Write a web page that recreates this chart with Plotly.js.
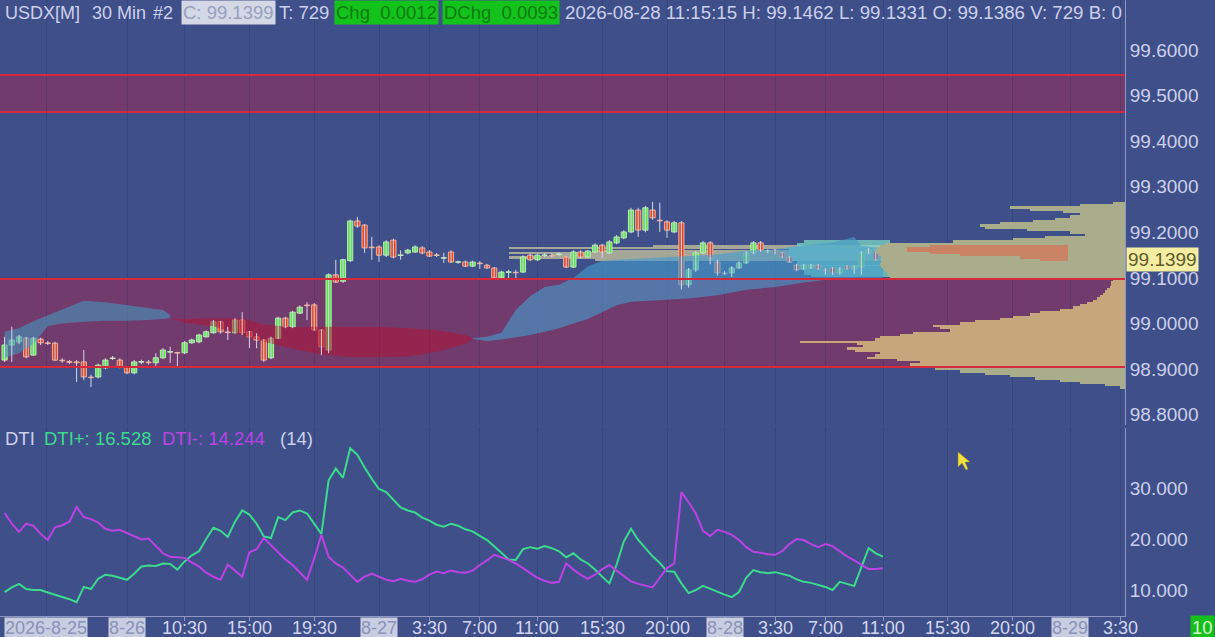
<!DOCTYPE html>
<html>
<head>
<meta charset="utf-8">
<script src="https://cdn.plot.ly/plotly-3.0.1.min.js"></script>
<style>
  html, body { margin: 0; padding: 0; background: #3f4f8a; }
  #chart { width: 1215px; height: 637px; }
</style>
</head>
<body>
<div id="chart"></div>
<script>
// 30 min bars, index 0 = 8-27 00:00
const barStart = -52;
const opens  = [98.920,98.953,98.960,98.968,98.931,98.966,98.958,98.957,98.920,98.917,98.916,98.916,98.883,98.883,98.903,98.924,98.920,98.905,98.892,98.916,98.916,98.914,98.925,98.938,98.936,98.936,98.958,98.960,98.971,98.980,99.004,98.982,98.980,99.008,98.982,98.971,98.964,98.925,98.968,99.012,98.993,99.023,99.041,99.041,98.986,98.942,
  99.107,99.093,99.138,99.225,99.216,99.168,99.168,99.150,99.183,99.150,99.155,99.157,99.166,99.157,99.150,99.144,99.157,99.135,99.135,99.126,99.133,99.128,99.122,99.100,99.113,99.113,99.113,99.150,99.140,99.150,99.150,99.152,99.146,99.124,99.157,99.146,99.157,
  99.172,99.155,99.177,99.188,99.201,99.249,99.205,99.249,99.227,99.223,99.201,99.221,99.085,99.118,99.155,99.177,99.135,99.111,99.111,99.122,99.133,99.155,99.177,99.159,99.161,99.155,99.146,99.128,99.120,99.122,99.128,99.118,99.122,99.111,99.126,99.120,99.124,99.155,99.157,99.1386];
const highs  = [98.971,98.993,98.975,98.971,98.971,98.969,98.962,98.960,98.924,98.920,98.920,98.942,98.888,98.912,98.924,98.929,98.924,98.907,98.920,98.921,98.920,98.935,98.946,98.949,98.938,98.962,98.967,98.978,98.985,99.008,99.006,98.993,99.012,99.025,98.984,98.979,98.966,98.971,99.015,99.015,99.028,99.040,99.047,99.045,98.988,99.110,
  99.140,99.142,99.228,99.234,99.218,99.190,99.172,99.183,99.186,99.161,99.164,99.172,99.170,99.161,99.155,99.155,99.161,99.138,99.138,99.138,99.137,99.131,99.124,99.116,99.118,99.118,99.150,99.153,99.153,99.155,99.155,99.156,99.148,99.161,99.161,99.161,99.176,
  99.175,99.183,99.194,99.205,99.254,99.254,99.258,99.267,99.265,99.227,99.225,99.225,99.122,99.159,99.181,99.181,99.140,99.115,99.126,99.137,99.159,99.181,99.181,99.163,99.164,99.157,99.148,99.131,99.131,99.131,99.131,99.122,99.124,99.124,99.128,99.128,99.159,99.166,99.161,99.1462];
const lows   = [98.916,98.916,98.955,98.924,98.929,98.953,98.953,98.918,98.914,98.911,98.872,98.876,98.861,98.880,98.900,98.920,98.902,98.889,98.889,98.911,98.910,98.903,98.922,98.914,98.903,98.933,98.955,98.957,98.969,98.978,98.978,98.964,98.978,98.975,98.946,98.946,98.916,98.922,98.966,98.990,98.990,99.021,99.008,98.984,98.931,98.935,
  99.089,99.089,99.135,99.210,99.155,99.140,99.135,99.146,99.143,99.140,99.152,99.155,99.152,99.146,99.146,99.133,99.133,99.131,99.124,99.124,99.120,99.120,99.098,99.098,99.096,99.096,99.111,99.137,99.137,99.146,99.146,99.148,99.122,99.122,99.144,99.144,99.155,
  99.144,99.152,99.174,99.185,99.198,99.190,99.200,99.228,99.201,99.188,99.198,99.075,99.079,99.113,99.152,99.130,99.105,99.107,99.102,99.120,99.131,99.152,99.157,99.155,99.152,99.144,99.133,99.115,99.118,99.120,99.118,99.107,99.107,99.107,99.118,99.109,99.107,99.152,99.138,99.1331];
const closes = [98.953,98.964,98.971,98.927,98.968,98.958,98.957,98.920,98.919,98.915,98.914,98.883,98.882,98.909,98.920,98.925,98.905,98.892,98.916,98.917,98.915,98.925,98.942,98.939,98.936,98.958,98.964,98.975,98.982,99.004,98.982,98.981,99.008,98.980,98.971,98.964,98.920,98.968,99.012,98.993,99.025,99.036,99.040,98.986,98.949,99.107,
  99.091,99.140,99.225,99.214,99.166,99.167,99.150,99.179,99.146,99.151,99.161,99.168,99.155,99.148,99.150,99.145,99.135,99.136,99.126,99.135,99.132,99.122,99.100,99.113,99.114,99.112,99.146,99.140,99.150,99.151,99.149,99.153,99.124,99.157,99.146,99.159,99.172,
  99.157,99.179,99.190,99.201,99.249,99.205,99.254,99.232,99.226,99.205,99.221,99.085,99.118,99.155,99.177,99.144,99.111,99.110,99.122,99.133,99.155,99.177,99.161,99.160,99.155,99.146,99.135,99.118,99.128,99.128,99.120,99.117,99.111,99.120,99.120,99.126,99.155,99.161,99.140,99.1399];

const dtiPlus  = [9.6,10.5,11.2,10.2,10.0,10.0,9.5,9.1,8.7,8.2,7.6,10.6,10.2,12.2,13.0,12.8,12.4,12.0,13.2,14.6,14.8,14.7,15.2,15.1,14.0,15.6,16.8,17.6,20.0,22.2,21.6,20.4,23.4,25.6,24.8,23.0,20.5,20.2,24.3,23.7,25.2,25.6,25.0,23.0,21.0,31.5,
  33.8,32.0,37.8,36.5,34.0,31.8,29.8,29.2,27.8,26.2,25.6,25.2,24.2,23.6,22.8,22.4,23.0,22.6,21.9,21.5,20.6,19.8,18.6,17.2,16.0,15.9,18.0,18.4,18.1,18.6,18.2,17.6,16.4,17.2,16.0,15.2,14.0,
  12.6,11.3,15.0,19.5,22.0,19.8,18.2,16.6,15.3,13.7,13.6,11.3,9.4,10.0,10.8,10.2,9.6,9.1,8.6,9.6,12.4,13.9,13.5,13.3,13.5,13.2,12.8,12.1,11.6,11.4,11.0,10.6,10.0,11.6,11.2,10.8,14.5,18.2,17.2,16.528];
const dtiMinus = [25.1,23.0,21.4,23.0,22.6,21.0,19.8,22.3,22.7,23.4,26.3,24.3,23.9,23.2,22.0,21.6,21.8,21.2,20.6,19.9,20.1,18.6,17.2,16.5,16.4,16.3,15.4,14.6,13.4,12.6,12.0,15.0,13.8,12.6,17.4,18.0,20.2,18.8,17.5,16.0,14.9,13.4,12.0,16.2,20.8,16.5,
  15.2,14.4,13.0,11.6,12.6,13.2,12.6,12.0,11.7,12.2,11.8,11.6,12.1,13.0,13.6,13.3,13.8,13.5,13.4,13.8,14.9,15.8,16.9,16.4,15.9,15.2,14.3,13.4,12.4,11.8,11.4,11.6,15.2,14.0,13.0,12.2,13.0,
  14.1,14.9,13.8,12.8,11.7,11.2,10.8,10.5,12.4,14.3,15.2,29.2,27.2,25.0,21.6,20.6,21.8,21.4,20.8,19.8,18.4,17.5,17.3,17.0,16.9,17.6,19.0,20.0,19.8,19.0,18.4,19.0,18.6,17.6,16.6,15.8,14.9,14.1,14.1,14.244];

// ichimoku cloud segments (bar index, upper, lower)
const cloudBlue1Idx = [-52,-50,-48,-46,-44,-41,-38,-35,-32,-30,-29];
const cloudBlue1Up  = [98.982,98.990,99.005,99.018,99.032,99.050,99.047,99.040,99.034,99.030,99.019];
const cloudBlue1Lo  = [98.925,98.935,98.955,98.995,99.000,99.004,99.006,99.006,99.008,99.010,99.012];
const cloudRedIdx = [-29,-27,-23,-19,-16,-12,-8,-4,0,4,8,12,13];
const cloudRedUp  = [99.012,99.010,99.012,99.012,98.998,98.992,98.993,98.993,98.993,98.990,98.986,98.975,98.968];
const cloudRedLo  = [99.012,99.002,98.994,98.975,98.960,98.945,98.932,98.926,98.926,98.928,98.938,98.955,98.966];
const cloudBlue2Idx = [13,15,17,19,21,23,25,27,29,31,33,35,39,43,47,51,55,59,63,66,67,70];
const cloudBlue2Up  = [98.968,98.971,98.980,99.030,99.060,99.080,99.085,99.100,99.125,99.138,99.140,99.142,99.145,99.148,99.152,99.160,99.163,99.172,99.178,99.190,99.170,99.165];
const cloudBlue2Lo  = [98.966,98.962,98.965,98.970,98.975,98.982,98.990,99.000,99.010,99.025,99.040,99.048,99.052,99.055,99.062,99.074,99.080,99.090,99.098,99.100,99.100,99.100];

// supply / demand zones
const zoneLow  = [98.905, 99.464];
const zoneHigh = [99.098, 99.545];

// volume profile (right side)
const vpLevels = [98.860,98.865,98.870,98.875,98.880,98.885,98.890,98.895,98.900,98.905,98.910,98.915,98.920,98.925,98.930,98.935,98.940,98.945,98.950,98.955,98.960,98.965,98.970,98.975,98.980,98.985,98.990,98.995,
  99.000,99.005,99.010,99.015,99.020,99.025,99.030,99.035,99.040,99.045,99.050,99.055,99.060,99.065,99.070,99.075,99.080,99.085,99.090,99.095,99.100,99.105,99.110,99.115,99.120,99.125,99.130,99.135,
  99.140,99.145,99.150,99.155,99.160,99.165,99.170,99.175,99.180,99.185,99.190,99.195,99.200,99.205,99.210,99.215,99.220,99.225,99.230,99.235,99.240,99.245,99.250,99.255,99.260,99.265];
const vpVolume = [5,20,45,65,90,115,140,165,190,228,215,205,228,258,250,245,270,278,262,268,325,250,245,225,212,175,185,192,
  165,150,125,112,95,85,65,52,45,38,32,28,25,22,20,18,15,14,14,12,235,236,238,240,242,244,245,244,
  243,244,246,248,250,248,245,240,172,112,80,40,55,98,140,145,125,92,70,55,45,62,95,115,45,12];
const hotLevels = [99.140,99.145,99.150,99.155,99.160,99.165,99.170];
const hotStart  = [57,57,57,57,57,57,57];
const hotVolume = [28,48,108,138,161,161,138];

// session profile / value area in the chart
const sessLevels = [99.140,99.145,99.150,99.155,99.160,99.165,99.170];
const sessStart  = [30,18,24,18,30,18,38];
const sessLen    = [43,55,49,55,43,55,35];
const vaLevels = [99.105,99.110,99.115,99.120,99.125,99.130,99.135,99.140,99.145,99.150,99.155,99.160,99.165,99.170,99.175,99.180];
const vaStart  = [60,59,59,58,58,58,58,57,57,57,57,57,57,58,58,59];
const vaLen    = [11,12,12,13,13,13,13,14,14,14,14,14,14,13,13,12];

const tickIdx  = [-46.2,-35,-27,-18,-9,0,7,14,22,31,40,48,55,62,70,79,88,96,103];
const tickText = ['2026-8-25','8-26','10:30','15:00','19:30','8-27','3:30','7:00','11:00','15:30','20:00','8-28','3:30','7:00','11:00','15:30','20:00','8-29','3:30'];
const dateTicks = ['2026-8-25','8-26','8-27','8-28','8-29'];
const priceTicks = [98.8,98.9,99.0,99.1,99.2,99.3,99.4,99.5,99.6];
const dtiTicks = [10,20,30];

const lastPrice = 99.1399;

const barIdx = opens.map((_, i) => barStart + i);

const BG = '#3f4f8a';
const TXT = '#ccd0ea';
const FONT = 'Liberation Sans, Arial, sans-serif';
const plotW = 1125, plotH = 616;

function cloudPair(idx, up, lo, color){
  return [
    {x: idx, y: lo, type: 'scatter', mode: 'lines', line: {width: 0}, hoverinfo: 'skip', xaxis: 'x', yaxis: 'y'},
    {x: idx, y: up, type: 'scatter', mode: 'lines', line: {width: 0}, fill: 'tonexty', fillcolor: color, hoverinfo: 'skip', xaxis: 'x', yaxis: 'y'}
  ];
}

var traces = [];
traces.push(...cloudPair(cloudBlue1Idx, cloudBlue1Up, cloudBlue1Lo, 'rgba(70,150,190,0.6)'));
traces.push(...cloudPair(cloudRedIdx, cloudRedUp, cloudRedLo, 'rgba(175,20,55,0.55)'));
traces.push(...cloudPair(cloudBlue2Idx, cloudBlue2Up, cloudBlue2Lo, 'rgba(70,155,205,0.62)'));

traces.push({
  type: 'bar', orientation: 'h', y: sessLevels, x: sessLen, base: sessStart, width: 0.0048,
  marker: {color: 'rgba(212,205,160,0.7)', line: {width: 0}}, xaxis: 'x', yaxis: 'y', hoverinfo: 'skip'
});
traces.push({
  type: 'bar', orientation: 'h', y: vaLevels, x: vaLen, base: vaStart, width: 0.0052,
  marker: {color: 'rgba(125,220,200,0.72)', line: {width: 0}}, xaxis: 'x', yaxis: 'y', hoverinfo: 'skip'
});

// candles: wicks + bodies
const wickX = [], wickY = [];
barIdx.forEach((b, i) => { wickX.push(b, b, null); wickY.push(lows[i], highs[i], null); });
traces.push({x: wickX, y: wickY, type: 'scatter', mode: 'lines', line: {color: '#d4d6e6', width: 1},
  xaxis: 'x', yaxis: 'y', hoverinfo: 'skip', connectgaps: false});
const isUp = closes.map((c, i) => c > opens[i]);
const minBody = 0.0012;
traces.push({
  type: 'bar', x: barIdx, y: closes.map((c, i) => Math.max(Math.abs(c - opens[i]), minBody)),
  base: closes.map((c, i) => Math.min(c, opens[i]) - (Math.abs(c - opens[i]) < minBody ? minBody / 2 : 0)),
  width: 0.72, xaxis: 'x', yaxis: 'y', hoverinfo: 'skip',
  marker: {color: isUp.map(u => u ? '#62e05a' : '#de4a2c'),
           line: {color: isUp.map(u => u ? '#b4f0ac' : '#f5ad96'), width: 1}}
});

// right volume profile
const inZone = (p) => p >= zoneLow[0] && p <= zoneHigh[0];
traces.push({
  type: 'bar', orientation: 'h', y: vpLevels, x: vpVolume, width: 0.0052,
  marker: {color: vpLevels.map(p => inZone(p) ? '#c8a67c' : '#a9ad8b'), line: {width: 0}},
  xaxis: 'x2', yaxis: 'y', hoverinfo: 'skip'
});
traces.push({
  type: 'bar', orientation: 'h', y: hotLevels, x: hotVolume, base: hotStart, width: 0.0052,
  marker: {color: 'rgba(205,125,95,0.88)', line: {width: 0}},
  xaxis: 'x2', yaxis: 'y', hoverinfo: 'skip'
});

traces.push({x: barIdx, y: dtiPlus, type: 'scatter', mode: 'lines', line: {color: '#3adb8c', width: 2}, xaxis: 'x', yaxis: 'y2', hoverinfo: 'skip'});
traces.push({x: barIdx, y: dtiMinus, type: 'scatter', mode: 'lines', line: {color: '#bd42e4', width: 2}, xaxis: 'x', yaxis: 'y2', hoverinfo: 'skip'});

// zones
var shapes = [];
for (let i = 0; i < zoneLow.length; ++i){
  shapes.push({type: 'rect', xref: 'paper', x0: 0, x1: 1, yref: 'y', y0: zoneLow[i], y1: zoneHigh[i],
    fillcolor: 'rgba(165,40,80,0.5)', line: {width: 0}, layer: 'below'});
  shapes.push({type: 'line', xref: 'paper', x0: 0, x1: 1, yref: 'y', y0: zoneLow[i], y1: zoneLow[i],
    line: {color: '#d42a3c', width: 2}, layer: 'above'});
  shapes.push({type: 'line', xref: 'paper', x0: 0, x1: 1, yref: 'y', y0: zoneHigh[i], y1: zoneHigh[i],
    line: {color: '#d42a3c', width: 2}, layer: 'above'});
}
// mouse pointer
shapes.push({type: 'path', xref: 'paper', yref: 'paper',
  path: 'M0.8516,0.2662 L0.8516,0.2419 L0.8551,0.2484 L0.8587,0.2370 L0.8604,0.2386 L0.8578,0.2500 L0.8622,0.2500 Z',
  fillcolor: '#f2e23a', line: {color: '#9a8a20', width: 0.5}});

// texts
const px = (x) => x / plotW;
const py = (y) => 1 - y / plotH;
function txt(x, y, text, color, bg, xref, yref, size){
  return {xref: xref || 'paper', yref: yref || 'paper', x: x, y: y, text: text, showarrow: false,
    xanchor: 'left', yanchor: 'middle', font: {family: FONT, size: size || 18.5, color: color},
    bgcolor: bg || 'rgba(0,0,0,0)', borderpad: 1};
}
var annotations = [
  txt(px(3), py(13), 'USDX[M]', TXT, null, null, null, 18),
  txt(px(90), py(13), '30 Min', TXT, null, null, null, 18),
  txt(px(151), py(13), '#2', TXT, null, null, null, 18),
  txt(px(181), py(13), 'C: 99.1399', '#99a0c0', '#d3d7e6'),
  txt(px(277), py(13), 'T: 729', TXT),
  txt(px(334), py(13), 'Chg&nbsp;&nbsp;0.0012', '#0d7d12', '#14c21c'),
  txt(px(442), py(13), 'DChg&nbsp;&nbsp;0.0093', '#0d7d12', '#14c21c'),
  txt(px(563), py(13), '2026-08-28 11:15:15 H: 99.1462 L: 99.1331 O: 99.1386 V: 729 B: 0', TXT, null, null, null, 18.7),
  txt(px(3), py(438), 'DTI', TXT),
  txt(px(42), py(438), 'DTI+: ' + dtiPlus[dtiPlus.length - 1].toFixed(3), '#3adb8c'),
  txt(px(160), py(438), 'DTI-: ' + dtiMinus[dtiMinus.length - 1].toFixed(3), '#bd42e4'),
  txt(px(278), py(438), '(14)', TXT),
  txt(px(1126), lastPrice, lastPrice.toFixed(4), '#5e5a2a', '#f4eda2', 'paper', 'y', 19),
  txt(px(1190), py(627), '10', '#d6f5d0', '#16c01c')
];
for (let i = 0; i < tickIdx.length; ++i){
  const isDate = dateTicks.includes(tickText[i]);
  annotations.push({xref: 'x', yref: 'paper', x: tickIdx[i], y: py(628), text: tickText[i], showarrow: false,
    xanchor: 'center', yanchor: 'middle', font: {family: FONT, size: 18, color: isDate ? '#8a92b8' : '#d2d6ef'},
    bgcolor: isDate ? '#c9cde2' : 'rgba(0,0,0,0)', borderpad: 0});
}

const yTop = 99.6 + 50 / 456, yBot = 99.6 - 375 / 456;
const dTop = 30 + 60 / 5.1, dBot = 30 - 128 / 5.1;

var layout = {
  width: 1215, height: 637,
  margin: {l: 0, r: 90, t: 0, b: 21},
  paper_bgcolor: BG, plot_bgcolor: BG,
  showlegend: false, barmode: 'overlay', bargap: 0,
  font: {family: FONT, size: 18, color: TXT},
  xaxis: {range: [(0 - 379) / 7.2, (plotW - 379) / 7.2], anchor: 'y2', domain: [0, 1],
    tickvals: tickIdx, showticklabels: false, ticks: 'outside', ticklen: 4, tickcolor: '#8e97c4',
    showgrid: true, gridcolor: 'rgba(35,45,95,0.3)', gridwidth: 1,
    showline: true, linecolor: '#8e97c4', linewidth: 1, zeroline: false, fixedrange: true},
  xaxis2: {overlaying: 'x', anchor: 'y', range: [plotW, 0], visible: false, fixedrange: true},
  yaxis: {domain: [(plotH - 425) / plotH, 1], range: [yBot, yTop], side: 'right',
    tickvals: priceTicks, ticktext: priceTicks.map(v => v.toFixed(4)),
    showgrid: false, zeroline: false, showline: true, linecolor: '#8e97c4', linewidth: 1,
    ticks: '', tickfont: {family: FONT, size: 19, color: TXT}, fixedrange: true},
  yaxis2: {domain: [0, (plotH - 428) / plotH], range: [dBot, dTop], side: 'right',
    tickvals: dtiTicks, ticktext: dtiTicks.map(v => v.toFixed(3)),
    showgrid: false, zeroline: false, showline: true, linecolor: '#8e97c4', linewidth: 1,
    ticks: '', tickfont: {family: FONT, size: 19, color: TXT}, fixedrange: true},
  shapes: shapes,
  annotations: annotations
};

Plotly.newPlot('chart', traces, layout, {displayModeBar: false, staticPlot: true});
</script>
</body>
</html>
